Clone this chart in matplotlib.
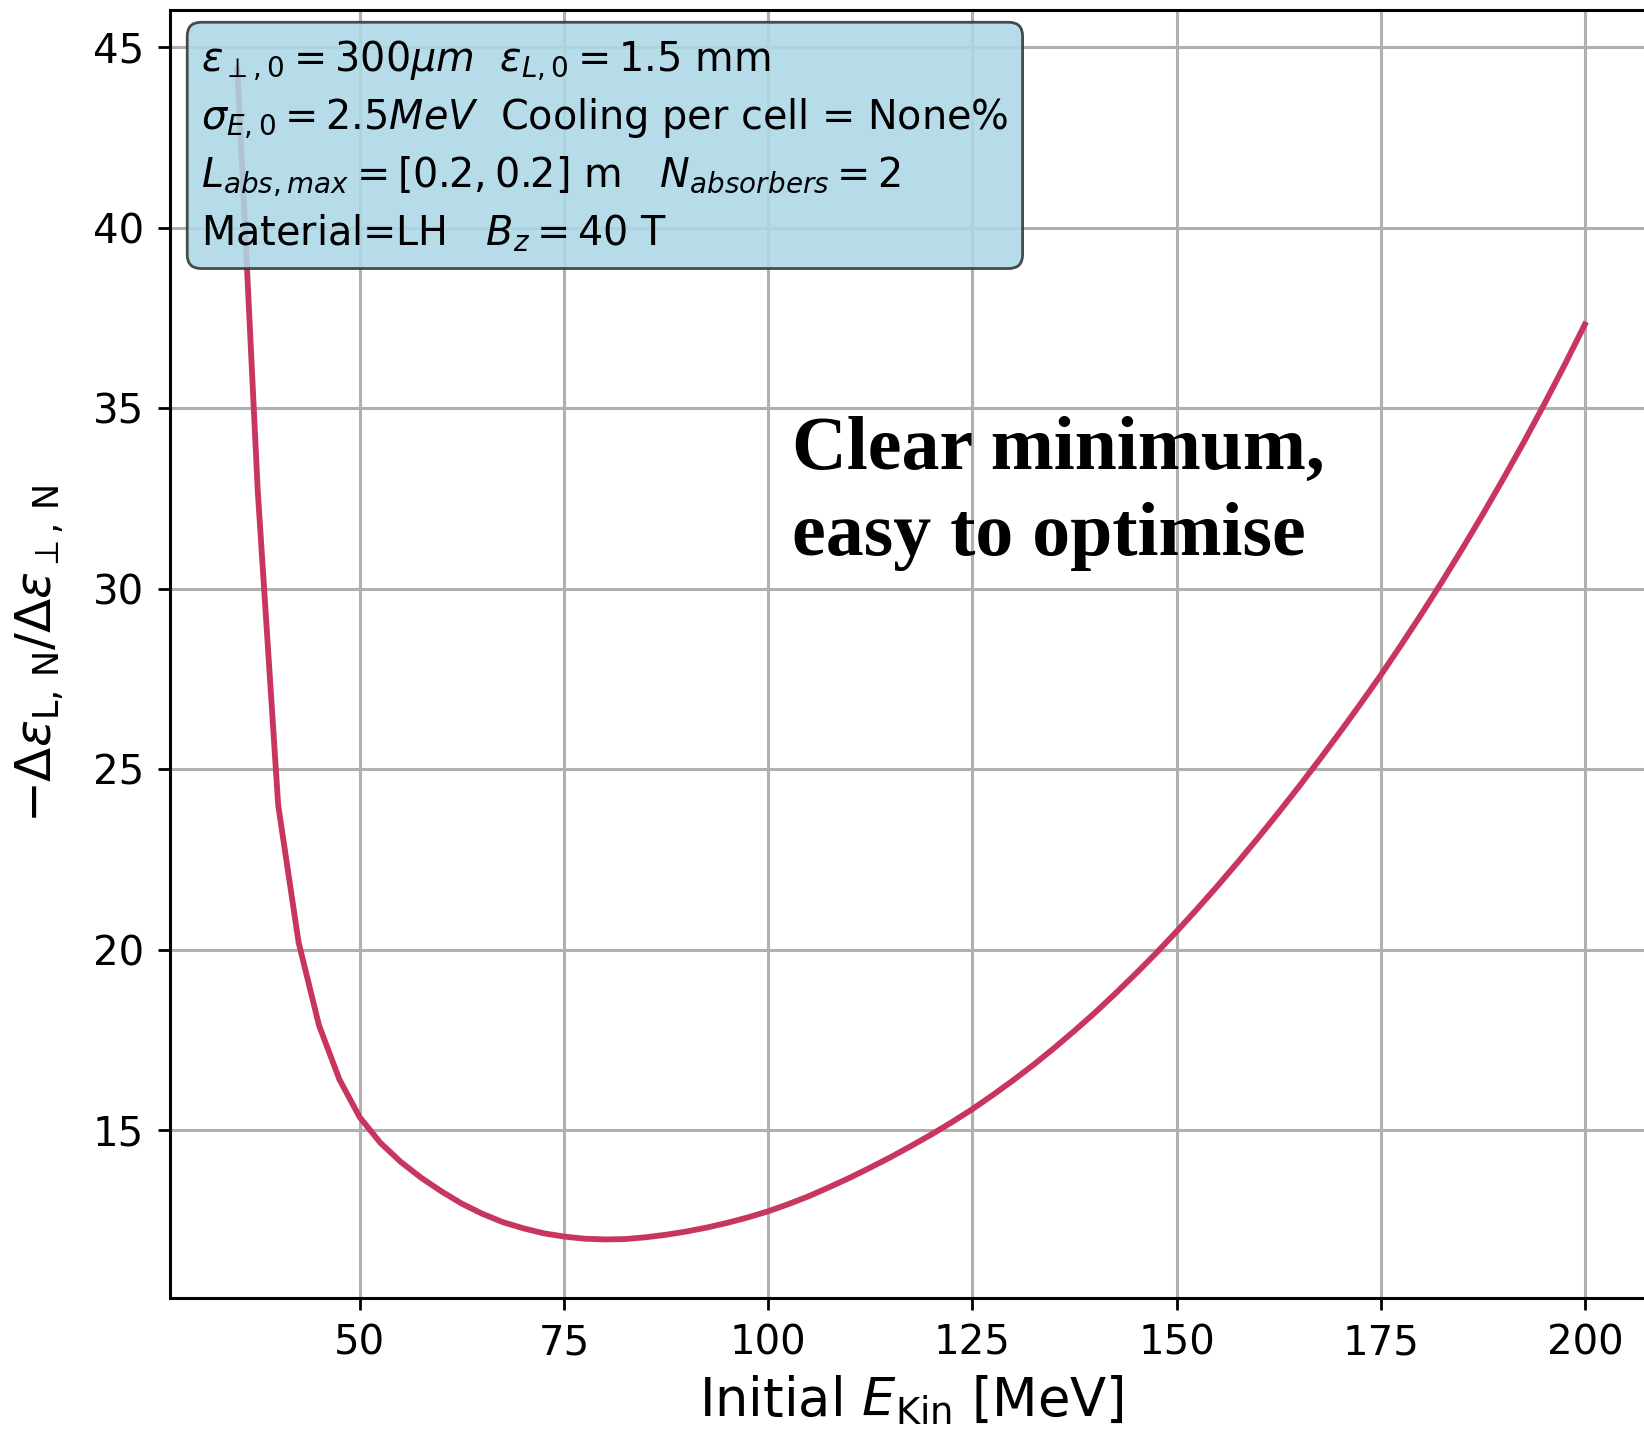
import numpy as np
import matplotlib
matplotlib.use('Agg')
import matplotlib.pyplot as plt

# initial kinetic energy [MeV]
e_kin = [35, 37.5, 40, 42.5, 45, 47.5, 50, 52.5, 55, 57.5,
         60, 62.5, 65, 67.5, 70, 72.5, 75, 77.5, 80, 82.5,
         85, 87.5, 90, 92.5, 95, 97.5, 100, 102.5, 105, 107.5,
         110, 112.5, 115, 117.5, 120, 122.5, 125, 127.5, 130, 132.5,
         135, 137.5, 140, 142.5, 145, 147.5, 150, 152.5, 155, 157.5,
         160, 162.5, 165, 167.5, 170, 172.5, 175, 177.5, 180, 182.5,
         185, 187.5, 190, 192.5, 195, 197.5, 200]
# -d eps_L / d eps_T
ratio = [44.4, 32.7, 24.0, 20.2, 17.9, 16.4, 15.35, 14.65, 14.12, 13.68,
         13.3, 12.96, 12.68, 12.45, 12.28, 12.14, 12.05, 11.99, 11.97, 11.98,
         12.03, 12.1, 12.19, 12.3, 12.43, 12.58, 12.75, 12.95, 13.17, 13.42,
         13.68, 13.96, 14.25, 14.56, 14.88, 15.22, 15.58, 15.97, 16.38, 16.81,
         17.27, 17.75, 18.25, 18.78, 19.33, 19.9, 20.5, 21.12, 21.76, 22.42,
         23.1, 23.8, 24.52, 25.26, 26.02, 26.8, 27.6, 28.44, 29.3, 30.19,
         31.11, 32.06, 33.04, 34.05, 35.1, 36.19, 37.32]

x_ticks = [50, 75, 100, 125, 150, 175, 200]
y_ticks = [15, 20, 25, 30, 35, 40, 45]

info_lines = [
    r'$ε_{\perp,0} = 300 \mu m$  $ε_{L,0} = 1.5$ mm',
    r'$\sigma_{E,0} = 2.5 MeV$  Cooling per cell = None%',
    r'$L_{abs,max} = [0.2, 0.2]$ m   $N_{absorbers} = 2$',
    r'Material=LH   $B_z = 40$ T',
]
note = 'Clear minimum,\neasy to optimise'

fig = plt.figure(figsize=(16.44, 14.29), dpi=100)
ax = fig.add_axes([0.1034, 0.0917, 0.9016, 0.901])

ax.plot(e_kin, ratio, color='#c8365f', lw=4.2)

ax.set_xticks(x_ticks)
ax.set_yticks(y_ticks)
ax.grid(True, color='#b0b0b0', lw=2.2)
ax.tick_params(labelsize=29, length=8.5, width=2, pad=10)
for s in ax.spines.values():
    s.set_linewidth(2.2)

ax.set_xlabel(r'Initial $E_{\mathrm{Kin}}$ [MeV]', fontsize=38, labelpad=7)
ax.set_ylabel(r'$-\Delta ε_{\mathrm{L,\,N}}/\Delta ε_{\perp,\,\mathrm{N}}$', fontsize=36, labelpad=20)

ax.text(0.021, 0.978, '\n'.join(info_lines), transform=ax.transAxes,
        fontsize=28.6, ha='left', va='top', linespacing=1.43,
        bbox=dict(boxstyle='round,pad=0.35', facecolor='lightblue', alpha=0.88,
                  edgecolor='#333333', lw=2))

ax.text(102.9, 34.78, note, fontsize=54.5, fontweight='bold', family='Liberation Serif',
        ha='left', va='top', linespacing=1.32)

fig.savefig('out.png', dpi=100)
